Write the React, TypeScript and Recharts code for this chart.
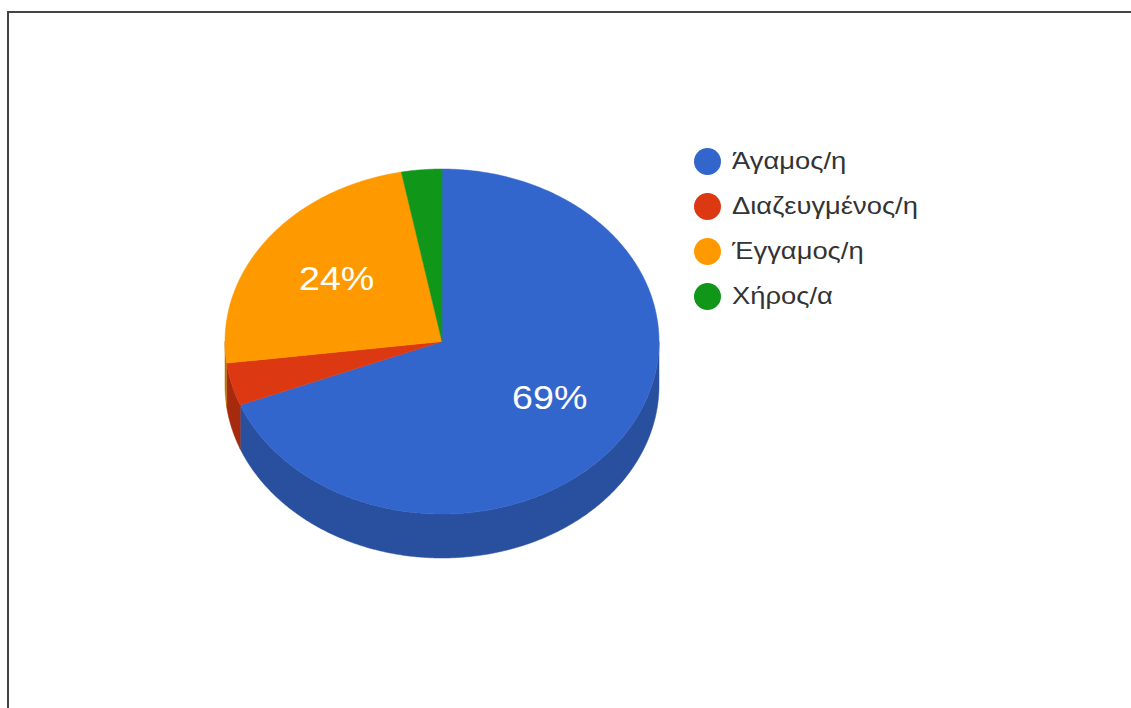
import React from 'react';
import { PieChart, Pie, Cell, Legend } from 'recharts';

// ---- data ----
const categories = ['Άγαμος/η', 'Διαζευγμένος/η', 'Έγγαμος/η', 'Χήρος/α'];
const shares = [69, 4, 24, 3];

// ---- styles ----
const topColors = ['#3366cc', '#dc3912', '#ff9900', '#109618'];
const sideColors = ['#28509f', '#a62b0e', '#bf7300', '#0c7212'];
const FONT = "Arial, 'Liberation Sans', sans-serif";
const RX = 217;
const RY = 172.5;
const DEPTH = 44;
const RATIO = RY / RX;
const STRETCH = 1.14;

const data = categories.map((name, i) => ({ name, value: shares[i], idx: i }));

function pt(cx: number, cy: number, r: number, deg: number, dy = 0): [number, number] {
  const a = (deg * Math.PI) / 180;
  return [cx + r * Math.cos(a), cy - r * RATIO * Math.sin(a) + dy];
}

function arcPts(cx: number, cy: number, r: number, from: number, to: number, dy = 0) {
  const out: [number, number][] = [];
  const n = Math.max(2, Math.ceil(Math.abs(to - from) / 0.5));
  for (let i = 0; i <= n; i++) {
    out.push(pt(cx, cy, r, from + ((to - from) * i) / n, dy));
  }
  return out;
}

function Slice3D(props: any) {
  const { cx, cy, outerRadius, startAngle, endAngle, index } = props;
  const idx = props.payload?.idx ?? index ?? 0;
  const s = Math.min(startAngle, endAngle);
  const e = Math.max(startAngle, endAngle);
  const sides: string[] = [];
  for (let k = -2; k <= 1; k++) {
    const lo = Math.max(s, 180 + 360 * k);
    const hi = Math.min(e, 360 + 360 * k);
    if (hi > lo) {
      const top = arcPts(cx, cy, outerRadius, lo, hi);
      const bot = arcPts(cx, cy, outerRadius, hi, lo, DEPTH);
      const all = [...top, ...bot];
      sides.push('M' + all.map((p) => p[0].toFixed(2) + ',' + p[1].toFixed(2)).join('L') + 'Z');
    }
  }
  const tp = arcPts(cx, cy, outerRadius, s, e);
  const topPath =
    `M${cx},${cy}L` + tp.map((p) => p[0].toFixed(2) + ',' + p[1].toFixed(2)).join('L') + 'Z';
  return (
    <g>
      {sides.map((d, i) => (
        <path key={i} d={d} fill={sideColors[idx]} stroke={sideColors[idx]} strokeWidth={0.5} />
      ))}
      <path d={topPath} fill={topColors[idx]} stroke={topColors[idx]} strokeWidth={0.5} />
    </g>
  );
}

function renderLabel(props: any) {
  const { cx, cy, midAngle, outerRadius, percent } = props;
  if (percent < 0.05) return null;
  const [x, y] = pt(cx, cy, outerRadius * 0.6, midAngle);
  return (
    <text
      x={0}
      y={0}
      transform={`translate(${x},${y - 2}) scale(${STRETCH},1)`}
      fill="#ffffff"
      textAnchor="middle"
      dominantBaseline="central"
      fontFamily={FONT}
      fontSize={33}
    >
      {Math.round(percent * 100) + '%'}
    </text>
  );
}

function LegendContent(props: any) {
  const payload = [...(props.payload || [])].sort(
    (a: any, b: any) => categories.indexOf(a.value) - categories.indexOf(b.value)
  );
  return (
    <div style={{ fontFamily: FONT }}>
      {payload.map((entry: any, i: number) => (
        <div
          key={i}
          style={{ display: 'flex', alignItems: 'center', height: 28, marginBottom: 17 }}
        >
          <div
            style={{
              width: 27,
              height: 27,
              borderRadius: '50%',
              background: entry.color,
              flex: 'none',
            }}
          />
          <span
            style={{
              display: 'inline-block',
              marginLeft: 11,
              fontSize: 24,
              color: '#333333',
              whiteSpace: 'nowrap',
              transform: `scaleX(${STRETCH})`,
              transformOrigin: 'left center',
            }}
          >
            {entry.value}
          </span>
        </div>
      ))}
    </div>
  );
}

export default function App() {
  return (
    <div
      style={{
        position: 'fixed',
        left: 0,
        top: 0,
        width: 1131,
        height: 708,
        overflow: 'hidden',
        background: '#ffffff',
      }}
    >
      <div
        style={{
          position: 'absolute',
          left: 7,
          top: 11,
          width: 1200,
          height: 800,
          borderTop: '2px solid #444444',
          borderLeft: '2px solid #444444',
        }}
      />
      <div style={{ position: 'absolute', left: 0, top: 0 }}>
        <PieChart width={1131} height={708} margin={{ top: 0, right: 0, bottom: 0, left: 0 }}>
          <Pie
            data={data}
            dataKey="value"
            nameKey="name"
            cx={442}
            cy={341.5}
            outerRadius={RX}
            startAngle={90}
            endAngle={-270}
            stroke="none"
            isAnimationActive={false}
            label={renderLabel}
            labelLine={false}
            shape={Slice3D}
          >
            {data.map((d, i) => (
              <Cell key={d.name} fill={topColors[i]} />
            ))}
          </Pie>
          <Legend
            layout="vertical"
            align="right"
            verticalAlign="middle"
            content={<LegendContent />}
            wrapperStyle={{ position: 'absolute', left: 694, top: 147, width: 300, right: 'auto', bottom: 'auto' }}
          />
        </PieChart>
      </div>
    </div>
  );
}
